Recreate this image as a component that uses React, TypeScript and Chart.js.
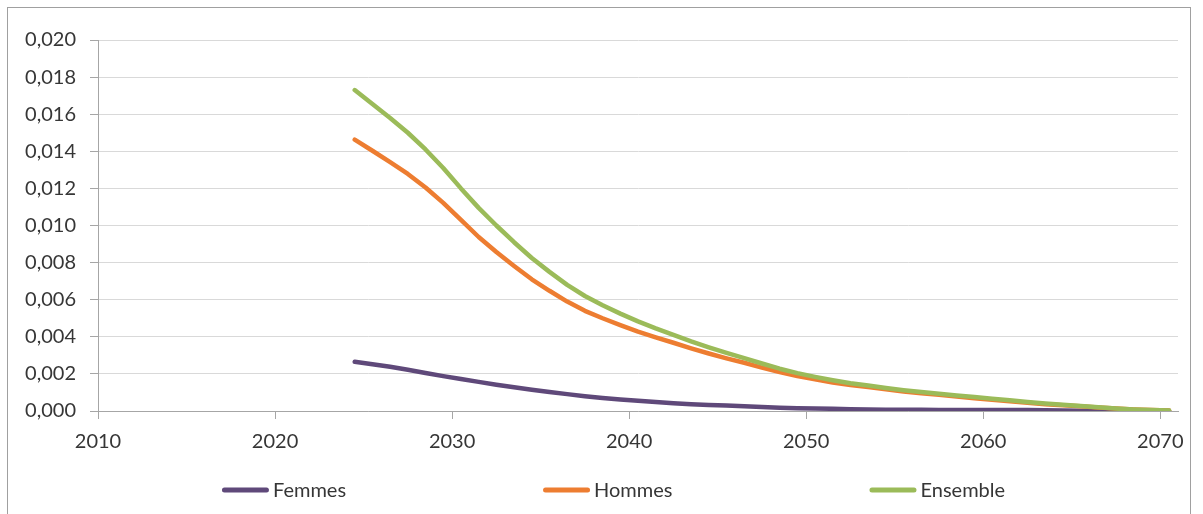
import React, { useEffect, useRef } from "react";
import { Chart, registerables } from "chart.js";

Chart.register(...registerables);

// Mid-year positions of the yearly observations
const years = [
  2024.5, 2025.5, 2026.5, 2027.5, 2028.5, 2029.5, 2030.5, 2031.5, 2032.5, 2033.5,
  2034.5, 2035.5, 2036.5, 2037.5, 2038.5, 2039.5, 2040.5, 2041.5, 2042.5, 2043.5,
  2044.5, 2045.5, 2046.5, 2047.5, 2048.5, 2049.5, 2050.5, 2051.5, 2052.5, 2053.5,
  2054.5, 2055.5, 2056.5, 2057.5, 2058.5, 2059.5, 2060.5, 2061.5, 2062.5, 2063.5,
  2064.5, 2065.5, 2066.5, 2067.5, 2068.5, 2069.5, 2070.5,
];

const femmes = [
  0.00265, 0.00252, 0.00238, 0.00222, 0.00205, 0.00188, 0.00172, 0.00157, 0.00142, 0.00128,
  0.00115, 0.00102, 0.00091, 0.0008, 0.0007, 0.00062, 0.00055, 0.00048, 0.00042, 0.00037,
  0.00033, 0.00029, 0.00025, 0.00022, 0.00018, 0.00015, 0.00013, 0.00012, 0.0001, 0.00008,
  0.00007, 0.00007, 0.00007, 0.00006, 0.00006, 0.00006, 0.00006, 0.00005, 0.00005, 0.00004,
  0.00003, 0.00002, 0.00001, 0, 0, 0, 0,
];

const hommes = [
  0.01463, 0.01403, 0.01342, 0.01278, 0.01205, 0.01122, 0.0103, 0.00938, 0.00857, 0.00782,
  0.0071, 0.00648, 0.0059, 0.0054, 0.005, 0.00463, 0.00428, 0.00397, 0.00368, 0.00338,
  0.0031, 0.00284, 0.0026, 0.00234, 0.0021, 0.00189, 0.00171, 0.00154, 0.0014, 0.00129,
  0.00117, 0.00105, 0.00095, 0.00087, 0.00078, 0.00069, 0.0006, 0.00053, 0.00044, 0.00037,
  0.00031, 0.00025, 0.00019, 0.00013, 0.00008, 0.00005, 0.00003,
];

const ensemble = [
  0.0173, 0.01655, 0.0158, 0.015, 0.0141, 0.0131, 0.012, 0.01095, 0.01, 0.0091,
  0.00825, 0.0075, 0.0068, 0.0062, 0.0057, 0.00525, 0.00483, 0.00445, 0.0041, 0.00375,
  0.00343, 0.00313, 0.00285, 0.00256, 0.00228, 0.00204, 0.00184, 0.00166, 0.0015, 0.00137,
  0.00124, 0.00112, 0.00102, 0.00093, 0.00084, 0.00075, 0.00066, 0.00058, 0.00049, 0.00041,
  0.00034, 0.00027, 0.0002, 0.00013, 0.00008, 0.00005, 0.00003,
];

const seriesNames = ["Femmes", "Hommes", "Ensemble"];
const seriesColors = ["#5f497a", "#ed7d31", "#9bbb59"];

const xTickValues = [2010, 2020, 2030, 2040, 2050, 2060, 2070];
const yTickValues = [0, 0.002, 0.004, 0.006, 0.008, 0.01, 0.012, 0.014, 0.016, 0.018, 0.02];

const FONT = "Lato, 'Open Sans', sans-serif";
const TEXT_COLOR = "#363636";
const AXIS_COLOR = "#a6a6a6";

const toPoints = (vals: number[]) => vals.map((v, i) => ({ x: years[i], y: v }));

// Legend drawn below the axis: line sample + label, items separated by a fixed gap
const bottomLegend = {
  id: "bottomLegend",
  afterDraw(chart: any) {
    const ctx = chart.ctx as CanvasRenderingContext2D;
    const lineLen = 47;
    const textGap = 4;
    const itemGap = 197;
    ctx.save();
    ctx.font = `20px ${FONT}`;
    const widths = seriesNames.map((n) => ctx.measureText(n).width);
    const total =
      widths.reduce((s, w) => s + lineLen + textGap + w, 0) + itemGap * (seriesNames.length - 1);
    let x = chart.width / 2 + 12 - total / 2;
    const y = chart.chartArea.bottom + 79;
    seriesNames.forEach((name, i) => {
      ctx.strokeStyle = seriesColors[i];
      ctx.lineWidth = 5;
      ctx.lineCap = "round";
      ctx.beginPath();
      ctx.moveTo(x + 2.5, y);
      ctx.lineTo(x + lineLen - 2.5, y);
      ctx.stroke();
      ctx.fillStyle = TEXT_COLOR;
      ctx.textBaseline = "middle";
      ctx.textAlign = "left";
      ctx.fillText(name, x + lineLen + textGap, y + 1);
      x += lineLen + textGap + widths[i] + itemGap;
    });
    ctx.restore();
  },
};

export default function App() {
  const canvasRef = useRef<HTMLCanvasElement | null>(null);

  useEffect(() => {
    if (!canvasRef.current) return;
    const seriesValues = [femmes, hommes, ensemble];
    const drawOrder = [2, 1, 0];
    const chart = new Chart(canvasRef.current, {
      type: "line",
      data: {
        datasets: seriesNames.map((name, i) => ({
          label: name,
          data: toPoints(seriesValues[i]),
          borderColor: seriesColors[i],
          backgroundColor: seriesColors[i],
          borderWidth: 4.5,
          borderCapStyle: "round" as const,
          borderJoinStyle: "round" as const,
          pointRadius: 0,
          tension: 0,
          fill: false,
          order: drawOrder[i],
        })),
      },
      options: {
        animation: false,
        responsive: false,
        maintainAspectRatio: false,
        layout: { padding: { top: 40, right: 25, left: 0, bottom: 0 } },
        plugins: {
          legend: { display: false },
          tooltip: { enabled: false },
        },
        scales: {
          x: {
            type: "linear",
            min: 2010,
            max: 2071,
            afterBuildTicks: (axis: any) => {
              axis.ticks = xTickValues.map((v) => ({ value: v }));
            },
            afterFit: (scale: any) => {
              scale.height = 103;
            },
            grid: {
              drawOnChartArea: false,
              drawTicks: true,
              tickLength: 8,
              tickColor: AXIS_COLOR,
            },
            border: { display: true, color: AXIS_COLOR, width: 1 },
            ticks: {
              padding: 11,
              color: TEXT_COLOR,
              font: { family: FONT, size: 20 },
              maxRotation: 0,
              callback: (v: any) => String(v),
            },
          },
          y: {
            type: "linear",
            min: 0,
            max: 0.02,
            afterBuildTicks: (axis: any) => {
              axis.ticks = yTickValues.map((v) => ({ value: v }));
            },
            afterFit: (scale: any) => {
              scale.width = 98;
            },
            grid: {
              color: "#d9d9d9",
              lineWidth: 1,
              drawTicks: true,
              tickLength: 8,
              tickColor: AXIS_COLOR,
            },
            border: { display: true, color: AXIS_COLOR, width: 1 },
            ticks: {
              padding: 14,
              color: TEXT_COLOR,
              font: { family: FONT, size: 20 },
              callback: (v: any) => Number(v).toFixed(3).replace(".", ","),
            },
          },
        },
      },
      plugins: [bottomLegend],
    });
    return () => chart.destroy();
  }, []);

  return (
    <>
      <div
        style={{
          position: "fixed",
          left: 7,
          top: 7,
          width: 1184,
          height: 520,
          boxSizing: "border-box",
          borderTop: "1px solid #a0a0a0",
          borderLeft: "1px solid #a0a0a0",
          borderRight: "1px solid #a0a0a0",
        }}
      />
      <div style={{ position: "fixed", left: 0, top: 0, width: 1203, height: 514 }}>
        <canvas ref={canvasRef} width={1203} height={514} style={{ display: "block" }} />
      </div>
    </>
  );
}
